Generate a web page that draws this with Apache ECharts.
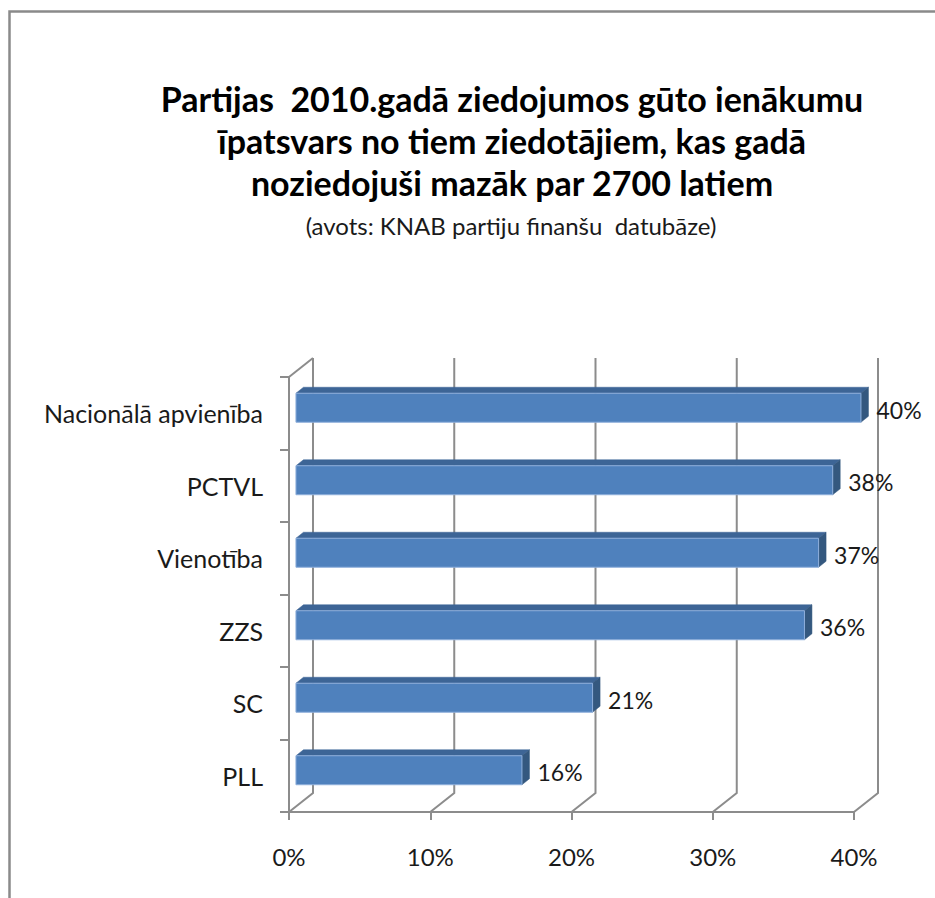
<!DOCTYPE html>
<html><head><meta charset="utf-8">
<script src="https://cdn.jsdelivr.net/npm/echarts@6/dist/echarts.min.js"></script>
<style>html,body{margin:0;padding:0;background:#fff}#c{width:935px;height:898px}</style>
</head><body><div id="c"></div>
<script>
const categories = ['Nacionālā apvienība', 'PCTVL', 'Vienotība', 'ZZS', 'SC', 'PLL'];
const values = [0.40, 0.38, 0.37, 0.36, 0.21, 0.16];
const valueTicks = [0, 0.1, 0.2, 0.3, 0.4];
const titleLines = ['Partijas  2010.gadā ziedojumos gūto ienākumu', 'īpatsvars no tiem ziedotājiem, kas gadā', 'noziedojuši mazāk par 2700 latiem'];
const subtitle = '(avots: KNAB partiju finanšu  datubāze)';

const DX = 24, DY = -19;
const BAR_T = 0.29;
const BAR_D = [7.5, -6];
const GRAY = '#8c8c8c';
const FONT = 'Lato';
const TXT = '#1a1a1a';

const chart = echarts.init(document.getElementById('c'), null, {renderer: 'svg'});
const pct = v => Math.round(v * 100) + '%';

const option = {
  animation: false,
  backgroundColor: '#fff',
  grid: {left: 289, right: 81, top: 377, bottom: 86},
  xAxis: {
    type: 'value', min: 0, max: 0.4, interval: 0.1,
    axisLine: {show: true, lineStyle: {color: GRAY, width: 2}},
    axisTick: {show: true, length: 8, lineStyle: {color: GRAY, width: 2}},
    splitLine: {show: false},
    axisLabel: {formatter: pct, margin: 32, fontSize: 24, color: TXT, fontFamily: FONT}
  },
  yAxis: {
    type: 'category', data: categories, inverse: true,
    axisLine: {show: true, lineStyle: {color: GRAY, width: 2}},
    axisTick: {show: true, length: 9, lineStyle: {color: GRAY, width: 2}},
    axisLabel: {margin: 26, fontSize: 25, color: TXT, fontFamily: FONT}
  },
  graphic: [
    {type: 'rect', shape: {x: 9.5, y: 11.5, width: 1000, height: 1000}, style: {fill: 'none', stroke: '#8a8a8a', lineWidth: 2.5}},
    {type: 'text', x: 512, y: 98, style: {text: titleLines[0], font: 'bold 34px ' + FONT, fill: '#000', align: 'center', verticalAlign: 'middle'}},
    {type: 'text', x: 512, y: 140, style: {text: titleLines[1], font: 'bold 34px ' + FONT, fill: '#000', align: 'center', verticalAlign: 'middle'}},
    {type: 'text', x: 512, y: 182, style: {text: titleLines[2], font: 'bold 34px ' + FONT, fill: '#000', align: 'center', verticalAlign: 'middle'}},
    {type: 'text', x: 511, y: 225, style: {text: subtitle, font: '24px ' + FONT, fill: TXT, align: 'center', verticalAlign: 'middle'}}
  ],
  series: [
    {
      type: 'custom', z: 1, silent: true,
      data: valueTicks.map(v => [v, 0]),
      renderItem: function (params, api) {
        const v = api.value(0);
        const p = api.coord([v, 0]);
        const cs = params.coordSys;
        const top = cs.y, bottom = cs.y + cs.height;
        const children = [{
          type: 'polyline',
          shape: {points: [[p[0], bottom], [p[0] + DX, bottom + DY], [p[0] + DX, top + DY]]},
          style: {stroke: GRAY, lineWidth: 2, fill: 'none'}
        }];
        if (params.dataIndex === 0) {
          children.push({
            type: 'line',
            shape: {x1: p[0], y1: top, x2: p[0] + DX, y2: top + DY},
            style: {stroke: GRAY, lineWidth: 2}
          });
        }
        return {type: 'group', children: children};
      }
    },
    {
      type: 'custom', z: 2,
      data: values.map((v, i) => [v, i]),
      renderItem: function (params, api) {
        const v = api.value(0), ci = api.value(1);
        const p0 = api.coord([0, ci]), p1 = api.coord([v, ci]);
        const band = api.size([0, 1])[1];
        const ox = BAR_T * DX, oy = BAR_T * DY;
        const h = band * 0.4;
        const x0 = p0[0] + ox, x1 = p1[0] + ox, yc = p0[1] + oy;
        const yt = yc - h / 2, yb = yc + h / 2;
        const bx = BAR_D[0], by = BAR_D[1];
        return {
          type: 'group',
          children: [
            {type: 'polygon', shape: {points: [[x0, yt], [x1, yt], [x1 + bx, yt + by], [x0 + bx, yt + by]]},
             style: {fill: '#3d6596', stroke: '#3d6596', lineWidth: 0.5}},
            {type: 'polygon', shape: {points: [[x1, yt], [x1 + bx, yt + by], [x1 + bx, yb + by], [x1, yb]]},
             style: {fill: '#34587f', stroke: '#34587f', lineWidth: 0.5}},
            {type: 'rect', shape: {x: x0, y: yt, width: x1 - x0, height: h},
             style: {fill: '#4f81bd', stroke: '#8eaedb', lineWidth: 1}},
            {type: 'text', style: {text: pct(v), x: x1 + bx + 8, y: yc + 2, font: '23px ' + FONT, fill: TXT, align: 'left', verticalAlign: 'middle'}}
          ]
        };
      }
    }
  ]
};
chart.setOption(option);
</script>
</body></html>
